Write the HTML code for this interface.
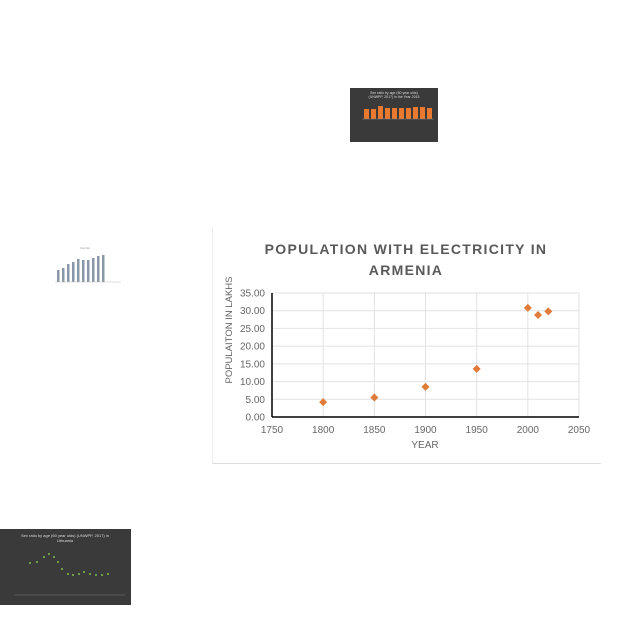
<!DOCTYPE html>
<html><head><meta charset="utf-8"><style>
body{margin:0;width:640px;height:640px;background:#fff;position:relative;overflow:hidden;font-family:"Liberation Sans",sans-serif}
.thumb{position:absolute}
</style></head><body>
<svg class="thumb" style="left:350px;top:88px" width="88" height="54" viewBox="0 0 88 54">
<rect width="88" height="54" fill="#3a3a3a"/>
<text x="44" y="6" font-size="3.5" fill="#ddd" text-anchor="middle">Sex ratio by age (60 year olds)</text>
<text x="44" y="10" font-size="3.5" fill="#ddd" text-anchor="middle">(UNWPP, 2017) in the Year 2015</text>
<g fill="#e9792f">
<rect x="14" y="21" width="5" height="10"/><rect x="21" y="21" width="5" height="10"/><rect x="28" y="18" width="5" height="13"/><rect x="35" y="20" width="5" height="11"/><rect x="42" y="20" width="5" height="11"/><rect x="49" y="20" width="5" height="11"/><rect x="56" y="20" width="5" height="11"/><rect x="63" y="19" width="5" height="12"/><rect x="70" y="19" width="5" height="12"/><rect x="77" y="20" width="5" height="11"/>
</g>
<line x1="12" y1="31" x2="84" y2="31" stroke="#888" stroke-width="0.5"/>
</svg>
<svg class="thumb" style="left:45px;top:245px" width="80" height="42" viewBox="0 0 80 42">
<text x="40" y="4" font-size="2.5" fill="#999" text-anchor="middle">chart title</text>
<g fill="#8a97a8">
<rect x="12" y="25" width="2.5" height="12"/><rect x="17" y="23" width="2.5" height="14"/><rect x="22" y="19" width="2.5" height="18"/><rect x="27" y="17" width="2.5" height="20"/><rect x="32" y="14" width="2.5" height="23"/><rect x="37" y="15" width="2.5" height="22"/><rect x="42" y="15" width="2.5" height="22"/><rect x="47" y="13" width="2.5" height="24"/><rect x="52" y="11" width="2.5" height="26"/><rect x="57" y="10" width="2.5" height="27"/>
</g>
<line x1="10" y1="37" x2="76" y2="37" stroke="#bbb" stroke-width="0.5"/>
</svg>
<svg class="thumb" style="left:0;top:529px" width="131" height="76" viewBox="0 0 131 76">
<rect width="131" height="76" fill="#3a3a3a"/>
<text x="65" y="8" font-size="4" fill="#ddd" text-anchor="middle">Sex ratio by age (60 year olds) (UNWPP, 2017) in</text>
<text x="65" y="13" font-size="4" fill="#ddd" text-anchor="middle">Lithuania</text>
<g fill="#7fbf4f">
<circle cx="30" cy="34" r="1"/><circle cx="37" cy="33" r="1"/><circle cx="44" cy="28" r="1"/><circle cx="49" cy="25" r="1"/><circle cx="54" cy="28" r="1"/><circle cx="58" cy="33" r="1"/><circle cx="62" cy="40" r="1"/><circle cx="68" cy="45" r="1"/><circle cx="73" cy="46" r="1"/><circle cx="79" cy="45" r="1"/><circle cx="84" cy="43" r="1"/><circle cx="90" cy="45" r="1"/><circle cx="96" cy="46" r="1"/><circle cx="102" cy="46" r="1"/><circle cx="108" cy="45" r="1"/>
</g>
<line x1="14" y1="66" x2="125" y2="66" stroke="#777" stroke-width="0.5"/>
</svg>

<div style="position:absolute;left:212px;top:228px;width:388px;height:235px;border-bottom:1px solid #ddd;border-left:1px solid #eee"></div>
<svg id="chart" style="position:absolute;left:0;top:0" width="640" height="640"></svg>
<script>
const years=[1800,1850,1900,1950,2000,2010,2020];
const pops=[4.2,5.5,8.5,13.6,30.8,28.8,29.8];
const xTicks=[1750,1800,1850,1900,1950,2000,2050];
const yTicks=[0,5,10,15,20,25,30,35];
const NS='http://www.w3.org/2000/svg';
const svg=document.getElementById('chart');
const X=v=>272+(v-1750)/300*307;
const Y=v=>417-v/35*124;
function mk(t,a,txt){const e=document.createElementNS(NS,t);for(const k in a)e.setAttribute(k,a[k]);if(txt!==undefined)e.textContent=txt;svg.appendChild(e);return e;}
let e;
e=mk('text',{x:406,y:254,'font-size':14,'font-weight':'bold',fill:'#595959','text-anchor':'middle','letter-spacing':'1.3'},'POPULATION  WITH  ELECTRICITY  IN');


e=mk('text',{x:406,y:275,'font-size':14,'font-weight':'bold',fill:'#595959','text-anchor':'middle','letter-spacing':'1.3'},'ARMENIA');


yTicks.forEach(v=>{
 e=mk('line',{x1:272,x2:579,y1:Y(v),y2:Y(v),stroke:'#e2e2e2','stroke-width':1});
 
 
 e=mk('text',{x:265,y:Y(v)+3.5,'font-size':10,fill:'#666','text-anchor':'end'},v.toFixed(2));
 
 
});
xTicks.forEach(v=>{
 e=mk('line',{x1:X(v),x2:X(v),y1:Y(35),y2:Y(0),stroke:'#e2e2e2','stroke-width':1});
 
 
 e=mk('text',{x:X(v),y:433,'font-size':10,fill:'#666','text-anchor':'middle'},String(v));
 
 
});
e=mk('line',{x1:272,x2:579,y1:Y(0),y2:Y(0),stroke:'#000','stroke-width':1.5});


e=mk('line',{x1:272,x2:272,y1:Y(35),y2:Y(0),stroke:'#000','stroke-width':1.5});


e=mk('text',{x:425,y:448,'font-size':10,fill:'#666','text-anchor':'middle'},'YEAR');


e=mk('text',{x:0,y:0,'font-size':9.5,fill:'#666','text-anchor':'middle',transform:'translate(232,330) rotate(-90)'},'POPULAITON IN LAKHS');


years.forEach((yr,i)=>{
 const cx=X(yr),cy=Y(pops[i]);
 e=mk('polygon',{points:`${cx},${cy-4} ${cx+4},${cy} ${cx},${cy+4} ${cx-4},${cy}`,fill:'#e07b39'});
 
 
});
</script>
</body></html>
